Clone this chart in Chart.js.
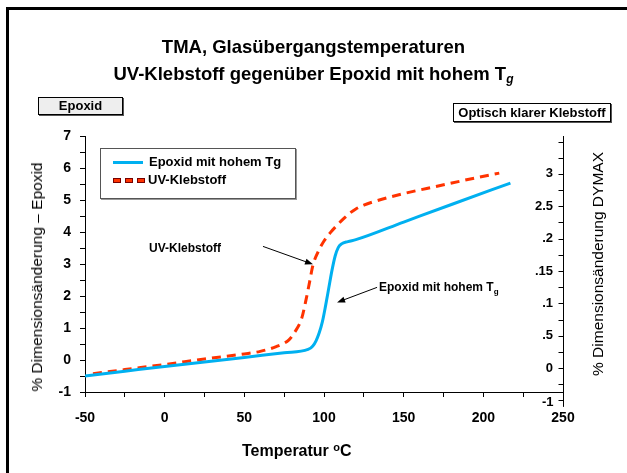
<!DOCTYPE html>
<html><head><meta charset="utf-8">
<script src="https://cdn.jsdelivr.net/npm/chart.js@4.4.0/dist/chart.umd.min.js"></script>
<style>
html,body{margin:0;padding:0;background:#fff;width:627px;height:473px;overflow:hidden;font-family:"Liberation Sans",Arial,sans-serif;}
#wrap{position:relative;width:627px;height:473px;}
#frame{position:absolute;left:6px;top:7px;width:660px;height:500px;border-left:3px solid #000;border-top:3px solid #000;box-sizing:border-box;}
#c{position:absolute;left:0;top:0;}
.t{position:absolute;white-space:nowrap;color:#000;font-weight:bold;}
#title{position:absolute;left:0;top:33px;width:627px;text-align:center;font-weight:bold;font-size:18.5px;line-height:27px;}
#title sub{font-size:12px;font-style:italic;vertical-align:-3px;line-height:0;}
.box{position:absolute;border:1px solid #000;box-shadow:1px 1px 0 #555;font-weight:bold;font-size:13px;text-align:center;box-sizing:border-box;}
#legend{position:absolute;left:100px;top:148px;width:196px;height:51px;border:1px solid #555;box-shadow:1px 1px 0 #999;box-sizing:border-box;background:#fff;}
.dash{position:absolute;width:6px;height:3px;background:#ff3300;border:1px solid #700;}
.rot{position:absolute;white-space:nowrap;font-size:15.5px;transform:translate(-50%,-50%) rotate(-90deg);}
.ann{position:absolute;white-space:nowrap;font-weight:bold;font-size:12px;}
.ann sub{font-size:8px;vertical-align:-3px;line-height:0;}
</style>
</head><body>
<div id="wrap">
<div id="frame"></div>
<canvas id="c" width="627" height="473"></canvas>
<div id="title">TMA, Glasübergangstemperaturen<br>UV-Klebstoff gegenüber Epoxid mit hohem T<sub>g</sub></div>
<div class="box" style="left:38px;top:97px;width:85px;height:18px;line-height:16px;background:#eeeeee;">Epoxid</div>
<div class="box" style="left:453px;top:103px;width:158px;height:19px;line-height:17px;background:#fff;">Optisch klarer Klebstoff</div>
<div id="legend">
  <div style="position:absolute;left:12px;top:12px;width:30px;height:3px;background:#00B0F0;"></div>
  <div class="t" style="left:48px;top:5px;font-size:13px;">Epoxid mit hohem Tg</div>
  <div class="dash" style="left:12px;top:29px;"></div>
  <div class="dash" style="left:24px;top:29px;"></div>
  <div class="dash" style="left:36px;top:29px;"></div>
  <div class="t" style="left:47px;top:23px;font-size:13px;">UV-Klebstoff</div>
</div>
<div class="rot" style="left:37px;top:277px;">% Dimensionsänderung – Epoxid</div>
<div class="rot" style="left:598px;top:264px;">% Dimensionsänderung DYMAX</div>
<div class="t" style="left:242px;top:442px;font-size:16px;">Temperatur <sup style="font-size:11px;vertical-align:5px;line-height:0;">o</sup>C</div>
<div class="ann" style="left:149px;top:241px;">UV-Klebstoff</div>
<div class="ann" style="left:379px;top:280px;">Epoxid mit hohem T<sub>g</sub></div>
</div>
<script>
// ---- data ----
const epoxidTemps = [-50, -25, 0, 25, 50, 75, 90, 93, 95, 97, 99, 101, 103, 105, 107, 109, 111, 115, 120, 150, 180, 217];
const epoxidValues = [-0.5, -0.35, -0.2, -0.06, 0.08, 0.23, 0.33, 0.44, 0.6, 0.85, 1.2, 1.7, 2.25, 2.8, 3.25, 3.52, 3.63, 3.7, 3.76, 4.31, 4.86, 5.53];
const uvTemps = [-45, -25, 0, 25, 50, 60, 70, 78, 82, 86, 89, 91, 93, 96, 100, 104, 108, 112, 116, 120, 125, 130, 150, 171, 196, 210];
const uvValues = [-0.43, -0.3, -0.14, 0.03, 0.19, 0.27, 0.42, 0.63, 0.9, 1.3, 1.95, 2.45, 2.95, 3.35, 3.72, 3.98, 4.2, 4.4, 4.58, 4.72, 4.84, 4.93, 5.2, 5.43, 5.7, 5.84];
const xTickLabels = [-50, 0, 50, 100, 150, 200, 250];
const leftTickLabels = [-1, 0, 1, 2, 3, 4, 5, 6, 7];
const rightTickValues = [0, 0.5, 1, 1.5, 2, 2.5, 3];
const rightTickLabels = ['0', '.5', '.1', '.15', '.2', '2.5', '3'];
const rightExtraValue = -0.5;
const rightExtraLabel = '-1';
const arrowUV = [61.7, 3.55, 93.1, 2.99];      // from (T, %) to (T, %)
const arrowEpoxid = [133.3, 2.27, 108.2, 1.80];

const FONT = "'Liberation Sans', Arial, sans-serif";
const pts = (xs, ys) => xs.map((x, i) => ({x, y: ys[i]}));

const rightMinorTicks = [];
for (let v = -0.25; v <= 3.51; v += 0.25) rightMinorTicks.push(Math.round(v * 100) / 100);

const extras = {
  id: 'extras',
  afterDraw(chart) {
    const ctx = chart.ctx;
    const xs = chart.scales.x, ys = chart.scales.y, y2 = chart.scales.y2;
    const ca = chart.chartArea;
    ctx.save();
    ctx.strokeStyle = '#000';
    ctx.lineWidth = 1;
    const ax = Math.round(y2.left) + 0.5;
    const tickVals = rightMinorTicks.concat([rightExtraValue]);
    tickVals.forEach(v => {
      const py = Math.round(y2.getPixelForValue(v)) + 0.5;
      ctx.beginPath(); ctx.moveTo(ax - 5, py); ctx.lineTo(ax, py); ctx.stroke();
    });
    ctx.beginPath(); ctx.moveTo(ax, ca.bottom); ctx.lineTo(ax, y2.getPixelForValue(-0.6)); ctx.stroke();
    ctx.fillStyle = '#000';
    ctx.font = 'bold 13px ' + FONT;
    ctx.textAlign = 'right'; ctx.textBaseline = 'middle';
    ctx.fillText(rightExtraLabel, ax - 10, y2.getPixelForValue(rightExtraValue) + 2);
    const arrow = a => {
      const x1 = xs.getPixelForValue(a[0]), y1 = ys.getPixelForValue(a[1]);
      const x2 = xs.getPixelForValue(a[2]), y2p = ys.getPixelForValue(a[3]);
      const ang = Math.atan2(y2p - y1, x2 - x1);
      ctx.beginPath(); ctx.moveTo(x1, y1); ctx.lineTo(x2 - 4 * Math.cos(ang), y2p - 4 * Math.sin(ang)); ctx.stroke();
      ctx.beginPath();
      ctx.moveTo(x2, y2p);
      ctx.lineTo(x2 - 8 * Math.cos(ang) + 3 * Math.sin(ang), y2p - 8 * Math.sin(ang) - 3 * Math.cos(ang));
      ctx.lineTo(x2 - 8 * Math.cos(ang) - 3 * Math.sin(ang), y2p - 8 * Math.sin(ang) + 3 * Math.cos(ang));
      ctx.closePath(); ctx.fill();
    };
    arrow(arrowUV);
    arrow(arrowEpoxid);
    ctx.restore();
  }
};

new Chart(document.getElementById('c'), {
  type: 'line',
  data: {
    datasets: [
      { label: 'Epoxid mit hohem Tg', data: pts(epoxidTemps, epoxidValues), borderColor: '#00B0F0', borderWidth: 3, pointRadius: 0, cubicInterpolationMode: 'monotone', yAxisID: 'y' },
      { label: 'UV-Klebstoff', data: pts(uvTemps, uvValues), borderColor: '#FF3300', borderWidth: 3, borderDash: [9, 6], pointRadius: 0, cubicInterpolationMode: 'monotone', yAxisID: 'y' }
    ]
  },
  options: {
    responsive: false, animation: false,
    layout: { padding: { left: 0, right: 0, top: 136, bottom: 41 } },
    plugins: { legend: { display: false }, tooltip: { enabled: false }, title: { display: false } },
    scales: {
      x: {
        type: 'linear', min: -50, max: 250,
        afterBuildTicks: s => { const t = []; for (let v = -50; v <= 250; v += 25) t.push({value: v}); s.ticks = t; },
        ticks: { callback: v => xTickLabels.includes(v) ? String(v) : '', color: '#000', font: { family: FONT, size: 14, weight: 'bold' }, padding: 13, maxRotation: 0, autoSkip: false },
        grid: { drawOnChartArea: false, tickLength: 5, color: '#000' },
        border: { color: '#000', width: 1 },
        afterFit: s => { s.height = 40; }
      },
      y: {
        type: 'linear', position: 'left', min: -1, max: 7,
        afterBuildTicks: s => { const t = []; for (let v = -1; v <= 7; v += 0.5) t.push({value: v}); s.ticks = t; },
        ticks: { callback: v => leftTickLabels.includes(v) ? String(v) : '', color: '#000', font: { family: FONT, size: 14, weight: 'bold' }, padding: 9, autoSkip: false },
        grid: { drawOnChartArea: false, tickLength: 5, color: '#000' },
        border: { color: '#000', width: 1 },
        afterFit: s => { s.width = 85; }
      },
      y2: {
        type: 'linear', position: 'right', min: -0.37, max: 3.585,
        afterBuildTicks: s => { s.ticks = rightTickValues.map(v => ({value: v})); },
        ticks: { mirror: true, padding: -10, callback: v => rightTickLabels[rightTickValues.indexOf(v)] ?? '', color: '#000', font: { family: FONT, size: 13, weight: 'bold' }, autoSkip: false },
        grid: { drawOnChartArea: false, drawTicks: false, color: '#000' },
        border: { color: '#000', width: 1 },
        afterFit: s => { s.width = 64; }
      }
    }
  },
  plugins: [extras]
});
</script>
</body></html>
